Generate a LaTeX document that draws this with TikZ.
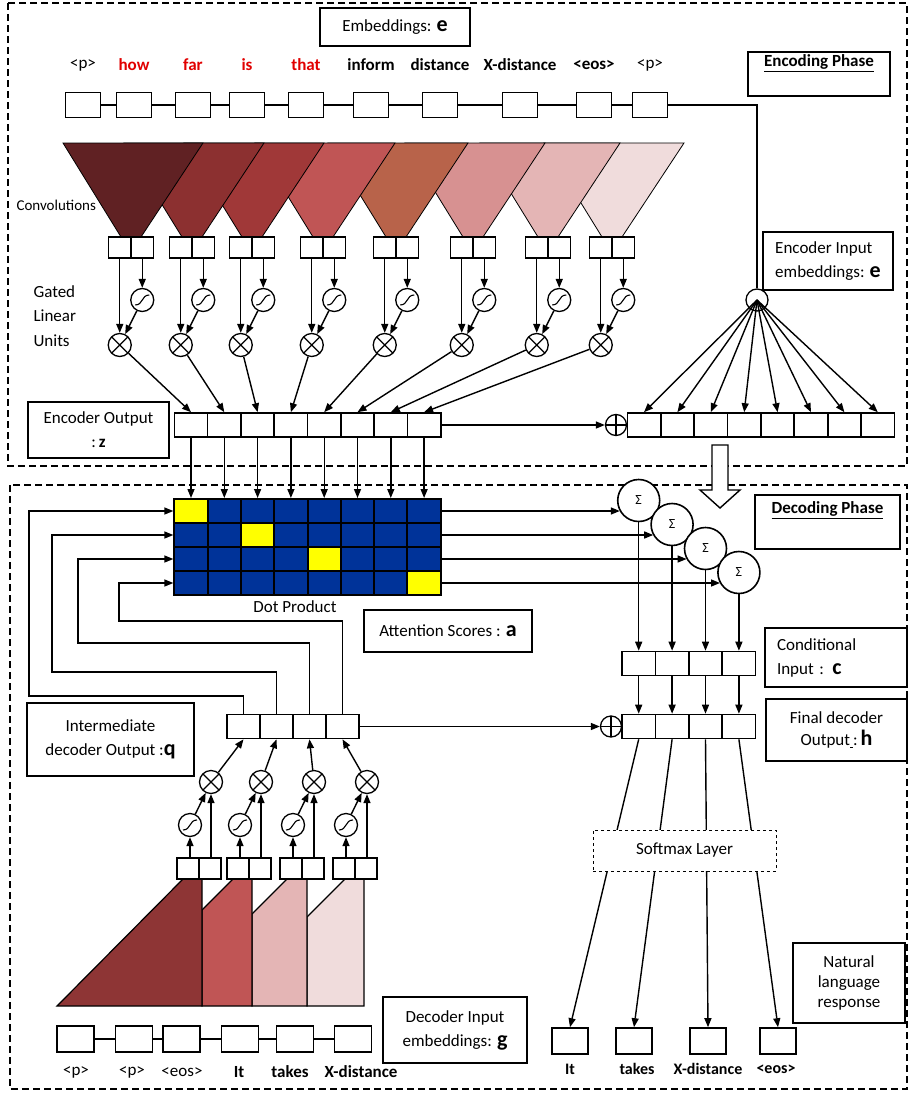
\documentclass[tikz,border=0pt]{standalone}
\usepackage{fontspec}
\setmainfont{Carlito}
\usetikzlibrary{positioning, arrows.meta}

\definecolor{convA}{RGB}{96,33,35}
\definecolor{convB}{RGB}{140,48,48}
\definecolor{convC}{RGB}{160,56,56}
\definecolor{convD}{RGB}{192,85,85}
\definecolor{convE}{RGB}{184,99,74}
\definecolor{convF}{RGB}{215,145,145}
\definecolor{convG}{RGB}{228,181,181}
\definecolor{convH}{RGB}{240,220,220}
\definecolor{decA}{RGB}{142,53,53}
\definecolor{attblue}{RGB}{0,51,153}
\definecolor{attyel}{RGB}{255,255,0}
\definecolor{hotred}{RGB}{225,0,0}

\newcommand{\vsym}[1]{{\fontsize{22}{22}\selectfont\bfseries #1}}

\begin{document}
\begin{tikzpicture}[
		x=1pt, y=-1pt,
		>={Triangle[length=9pt, width=7pt]},
		font=\fontsize{17}{20}\selectfont,
		phase/.style={draw, line width=1.8pt, dash pattern=on 7pt off 4pt},
		infobox/.style={draw, line width=1.6pt, align=center, inner sep=3pt, fill=white},
		emb/.style={draw, line width=1.6pt, minimum width=35pt, minimum height=25pt, inner sep=0pt},
		half/.style={draw, line width=1.6pt, minimum width=22.5pt, minimum height=21pt, inner sep=0pt, fill=white},
		cell/.style={draw, line width=1.6pt, minimum width=33.3pt, minimum height=24pt, inner sep=0pt, fill=white},
		attcell/.style={draw, line width=2pt, minimum width=33.3pt, minimum height=24pt, inner sep=0pt, fill=attblue},
		gate/.style={circle, draw, line width=1.3pt, minimum size=23pt, inner sep=0pt},
		mul/.style={gate, path picture={\draw[line width=1.3pt, shift={(path picture bounding box.center)}] (-8,-8) -- (8,8) (-8,8) -- (8,-8);}},
		sig/.style={gate, path picture={\draw[line width=1.1pt, shift={(path picture bounding box.center)}] (-7,5) .. controls (1,5) and (-1,-5) .. (7,-5);}},
		add/.style={circle, draw, line width=1.3pt, minimum size=21pt, inner sep=0pt, path picture={\draw[line width=1.3pt, shift={(path picture bounding box.center)}] (-11,0) -- (11,0) (0,-11) -- (0,11);}},
		sum/.style={circle, draw, line width=1.6pt, minimum size=42pt, inner sep=0pt, fill=white, font=\fontsize{14}{14}\selectfont},
		conn/.style={->, line width=1.4pt},
		word/.style={font=\fontsize{17}{20}\selectfont\bfseries}
		]
		\useasboundingbox (0,0) rectangle (910,1095);
		
		% --- 1. Phase frames and titles ---
		\draw[phase] (8,3) rectangle (907,466);
		\draw[phase] (10,485) rectangle (907,1089);
		
		\node[infobox, minimum width=150pt, minimum height=38pt] (embtitle) at (395,27) {Embeddings: \vsym{e}};
		\node[infobox, minimum width=142pt, minimum height=44pt] (encph) at (819,74) {};
		\node[word, below=0pt of encph.north] (encphtxt) {\underline{Encoding Phase}};
		
		% --- 2. Encoder input embeddings ---
		\foreach \x/\w/\col/\s [count=\i] in {83/{<p>}/black/\mdseries, 134/how/hotred/\bfseries, 193/far/hotred/\bfseries, 247/is/hotred/\bfseries, 306/that/hotred/\bfseries, 371/inform/black/\bfseries, 440/distance/black/\bfseries, 520/X-distance/black/\bfseries, 594/{<eos>}/black/\bfseries, 650/{<p>}/black/\mdseries}{
			\node[emb] (e\i) at (\x,105) {};
			\node[text=\col, font=\fontsize{17}{20}\selectfont\s] (w\i) at (\x,65) {\w};
		}
		\foreach \i [evaluate=\i as \j using int(\i+1)] in {1,...,9}
			\draw[line width=1.4pt] (e\i) -- (e\j);
		
		% --- 3. Convolutions (drawn back to front) ---
		\foreach \cx/\col in {612/convH, 548/convG, 473/convF, 396/convE, 323/convD, 252/convC, 192/convB, 131/convA}
			\filldraw[fill=\col, line width=0.8pt] (\cx-68,143) -- (\cx+72,143) -- (\cx+10,237) -- (\cx-10,237) -- cycle;
		\node[anchor=west, font=\fontsize{15}{18}\selectfont] (convlbl) at (13,205) {Convolutions};
		
		% --- 4. Gated linear units ---
		\node[anchor=west, align=left] (glulbl) at (30,316) {Gated\\[4.5pt] Linear\\[4.5pt] Units};
		\foreach \cx [count=\i] in {131,192,252,323,396,473,548,612}{
			\node[half] (cl\i) at (\cx-11.25,247.5) {};
			\node[half] (cr\i) at (\cx+11.25,247.5) {};
			\node[sig] (sg\i) at (\cx+11.25,300) {};
			\node[mul] (ml\i) at (\cx-11.25,345) {};
			\draw[conn] (cr\i) -- (sg\i);
			\draw[conn] (cl\i) -- (ml\i);
			\draw[conn] (sg\i) -- (ml\i);
		}
		
		% --- 5. Encoder output z and e + z ---
		\node[circle, draw, line width=1.3pt, minimum size=22pt, inner sep=0pt] (fan) at (757,300) {};
		\draw[line width=1.4pt] (e10.east) -| (fan.north);
		\foreach \i in {1,...,8}{
			\node[cell] (z\i) at ({191+33.3*(\i-1)},425) {};
			\node[cell] (s\i) at ({644+33.4*(\i-1)},425) {};
			\draw[conn] (ml\i) -- (z\i.north);
			\draw[conn] (fan.center) -- (s\i.north);
		}
		\node[add] (add1) at (616,425) {};
		\draw[conn] (z8.east) -- (add1);
		
		\node[infobox, minimum width=141pt, minimum height=56pt] (encout) at (98.5,430) {Encoder Output\\[4pt]:\,\textbf{z}};
		\node[infobox, align=left, minimum width=130pt, minimum height=58pt] (encin) at (828,261) {Encoder Input\\[4pt] embeddings: \vsym{e}};
		
		% hollow arrow into the decoder
		\draw[line width=1.4pt, fill=white] (712,445) -- (728,445) -- (728,490) -- (740,490) -- (720,508) -- (700,490) -- (712,490) -- cycle;
		
		\node[infobox, minimum width=145pt, minimum height=54pt] (decph) at (827.5,522) {};
		\node[word, below=4pt of decph.north] (decphtxt) {\underline{Decoding Phase}};
		
		% --- 6. Attention scores ---
		\foreach \r in {1,...,4}
			\foreach \k in {1,...,8}
				\node[attcell] (a-\r-\k) at ({191+33.3*(\k-1)},{511+24*(\r-1)}) {};
		\foreach \r/\k in {1/1,2/3,3/5,4/8}
			\node[attcell, fill=attyel] at (a-\r-\k) {};
		\foreach \i in {1,...,8}
			\draw[conn] (z\i) -- (a-1-\i);
		\node (dotlbl) at (295,607) {Dot Product};
		\node[infobox, minimum width=168pt, minimum height=42pt] (attsc) at (448,631) {Attention Scores : \vsym{a}};
		
		% --- 7. Conditional input c and decoder output h ---
		\foreach \sy [count=\r] in {500.5,524.5,548.5,572.5}{
			\node[sum] (sm\r) at ({638.7+33.4*(\r-1)},\sy) {Σ};
			\draw[conn] (a-\r-8.east) -- (a-\r-8.east -| sm\r.210);
		}
		\foreach \i in {1,...,4}{
			\node[cell] (c\i) at ({638.7+33.4*(\i-1)},663.5) {};
			\node[cell] (h\i) at ({638.7+33.4*(\i-1)},726.5) {};
			\node[cell] (q\i) at ({243.5+33*(\i-1)},726.5) {};
			\draw[conn] (sm\i) -- (c\i);
			\draw[conn] (c\i) -- (h\i);
		}
		\node[add] (add2) at (611,726.5) {};
		\draw[conn] (q4.east) -- (add2);
		
		\node[infobox, align=left, inner xsep=12pt, text width=118pt, minimum height=59pt] (condin) at (836,657.5) {Conditional\\[4pt] Input : \vsym{c}};
		\node[infobox, minimum width=141pt, minimum height=62pt] (finout) at (836.5,730) {Final decoder\\[2pt] Output\underline{\hspace{3pt}}:\,\vsym{h}};
		\node[infobox, minimum width=167pt, minimum height=73pt] (interout) at (110.5,739.5) {Intermediate\\[4pt] decoder Output :\vsym{q}};
		
		% q fed back to the attention rows
		\draw[conn] (q4.north) |- (119,621) |- (a-4-1.west);
		\draw[conn] (q3.north) |- (78,643) |- (a-3-1.west);
		\draw[conn] (q2.north) |- (52,672) |- (a-2-1.west);
		\draw[conn] (q1.north) |- (29,696) |- (a-1-1.west);
		
		% --- 8. Decoder convolutions and gates ---
		\filldraw[fill=convH, line width=1.2pt] (307,1006) -- (364,1006) -- (364,879) -- (345,879) -- (307,917) -- cycle;
		\filldraw[fill=convG, line width=1.2pt] (252,1006) -- (307,1006) -- (307,879) -- (287,879) -- (252,914) -- cycle;
		\filldraw[fill=convD, line width=1.2pt] (202,1006) -- (252,1006) -- (252,879) -- (233,879) -- (202,910) -- cycle;
		\filldraw[fill=decA, line width=1.2pt] (57,1006) -- (202,1006) -- (202,879) -- (183,879) -- cycle;
		
		\foreach \dx [count=\i] in {199,249,302,355}{
			\node[half, minimum width=22pt] (dl\i) at (\dx-11,868.5) {};
			\node[half, minimum width=22pt] (dr\i) at (\dx+11,868.5) {};
			\node[sig] (dsg\i) at (\dx-9,825) {};
			\node[mul] (dml\i) at (\dx+12,782) {};
			\draw[conn] (dl\i.north -| dsg\i) -- (dsg\i);
			\draw[conn] (dr\i.north -| dml\i) -- (dml\i);
			\draw[conn] (dsg\i) -- (dml\i);
			\draw[conn] (dml\i) -- (q\i.south);
		}
		
		% --- 9. Decoder input embeddings ---
		\foreach \x/\lx/\w/\s [count=\i] in {75.5/76/{<p>}/\mdseries, 134/132/{<p>}/\mdseries, 181.5/182/{<eos>}/\mdseries, 240/239/It/\bfseries, 295/290/takes/\bfseries, 353/361/X-distance/\bfseries}{
			\node[emb, minimum width=37pt, minimum height=26pt] (g\i) at (\x,1039) {};
			\node[font=\fontsize{17}{20}\selectfont\s] (gw\i) at (\lx,1072) {\w};
		}
		\foreach \i [evaluate=\i as \j using int(\i+1)] in {1,...,5}
			\draw[line width=1.4pt] (g\i) -- (g\j);
		\node[infobox, minimum width=144pt, minimum height=66pt] (decin) at (455,1030) {Decoder Input\\[4pt] embeddings: \vsym{g}};
		
		% --- 10. Softmax and response ---
		\foreach \x/\lx/\w [count=\i] in {570/570/It, 634/637/takes, 708/708/X-distance, 778/776/{<eos>}}{
			\node[emb, minimum width=36pt, minimum height=26pt] (o\i) at (\x,1041) {};
			\node[font=\fontsize{16}{19}\selectfont\bfseries] (ow\i) at (\lx,1069) {\w};
			\draw[conn] (h\i.south) -- (o\i.north);
		}
		\node[infobox, dashed, line width=1pt, minimum width=183pt, minimum height=41pt] (smax) at (684.5,850.5) {Softmax Layer};
		\node[infobox, minimum width=112pt, minimum height=80pt] (nlr) at (849,983) {Natural\\ language\\ response};
		
	\end{tikzpicture}
\end{document}
